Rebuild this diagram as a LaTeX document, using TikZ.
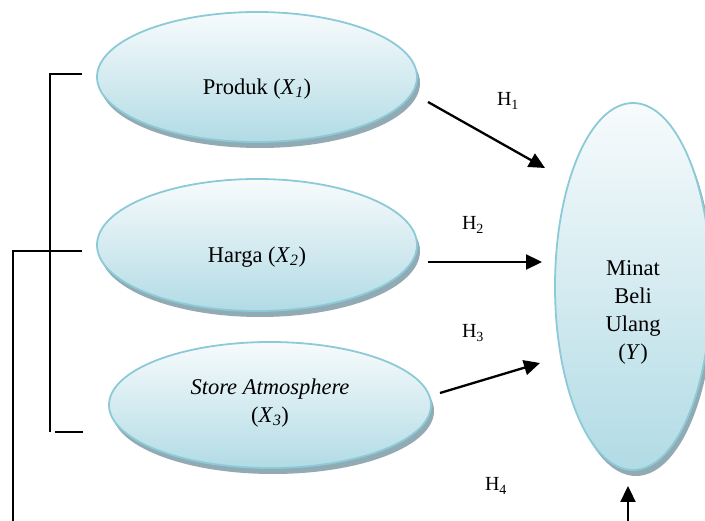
\documentclass[tikz,border=0pt]{standalone}
\usepackage{fontspec}
\setmainfont{Liberation Serif}
\usetikzlibrary{shapes.geometric,shadows,arrows.meta}
\definecolor{edgeblue}{HTML}{8CCAD8}
\definecolor{topfill}{HTML}{F7FBFC}
\definecolor{botfill}{HTML}{B2DBE5}
\definecolor{shadowc}{HTML}{7E9CA6}
\begin{document}
\begin{tikzpicture}[x=1pt,y=-1pt,
  var/.style={ellipse, draw=edgeblue, line width=1.8pt, inner sep=0pt,
    top color=topfill, bottom color=botfill,
    drop shadow={shadow xshift=3pt, shadow yshift=-6pt, fill=shadowc, opacity=0.85}},
  vtext/.style={align=center, inner sep=0pt, font=\fontsize{22.5}{28}\selectfont},
  hlab/.style={font=\fontsize{20}{24}\selectfont, inner sep=0pt},
  arr/.style={line width=2.3pt, -{Triangle[length=16pt,width=15pt]}},
  brk/.style={line width=2pt}]
\useasboundingbox (0,0) rectangle (705,521);
\fill[white] (0,0) rectangle (705,521);

\node[var, minimum width=320pt, minimum height=130pt,
  label={[vtext, yshift=-12pt]center:Produk (\textit{X}\textsubscript{\textit{1}})}] (e1) at (257,77) {};
\node[var, minimum width=320pt, minimum height=132pt,
  label={[vtext, yshift=-12pt]center:Harga (\textit{X}\textsubscript{\textit{2}})}] (e2) at (257,245) {};
\node[var, minimum width=322pt, minimum height=126pt,
  label={[vtext, yshift=2pt]center:\textit{Store Atmosphere}\\(\textit{X}\textsubscript{\textit{3}})}] (e3) at (270,405) {};
\node[var, minimum width=156pt, minimum height=367pt,
  label={[vtext, yshift=-26pt]center:Minat\\Beli\\Ulang\\(\textit{Y})}] (y) at (633,286.5) {};

% arrows
\coordinate (h1s) at (428,102); \coordinate (h1e) at (545,168);
\coordinate (h2s) at (428,262); \coordinate (h2e) at (542,262);
\coordinate (h3s) at (440,393); \coordinate (h3e) at (540,363);
\coordinate (h4s) at (628,521); \coordinate (h4e) at (628,486);
\draw[arr] (h1s) -- (h1e);
\draw[arr] (h2s) -- (h2e);
\draw[arr] (h3s) -- (h3e);
\draw[arr] (h4s) -- (h4e);

\node[hlab] (l1) at (508,101) {H\textsubscript{1}};
\node[hlab] (l2) at (473,225) {H\textsubscript{2}};
\node[hlab] (l3) at (473,333) {H\textsubscript{3}};
\node[hlab] (l4) at (496,486) {H\textsubscript{4}};

% brackets
\coordinate (b1) at (82,74); \coordinate (b1c) at (50,74);
\coordinate (b3) at (83,432); \coordinate (b3c) at (55,432);
\coordinate (bv) at (50,432);
\coordinate (m1) at (82,251); \coordinate (m0) at (13,251);
\coordinate (m2) at (13,521);
\draw[brk] (b1) -- (b1c) -- (bv);
\draw[brk] (b3c) -- (b3);
\draw[brk] (m1) -- (m0) -- (m2);
\end{tikzpicture}
\end{document}
